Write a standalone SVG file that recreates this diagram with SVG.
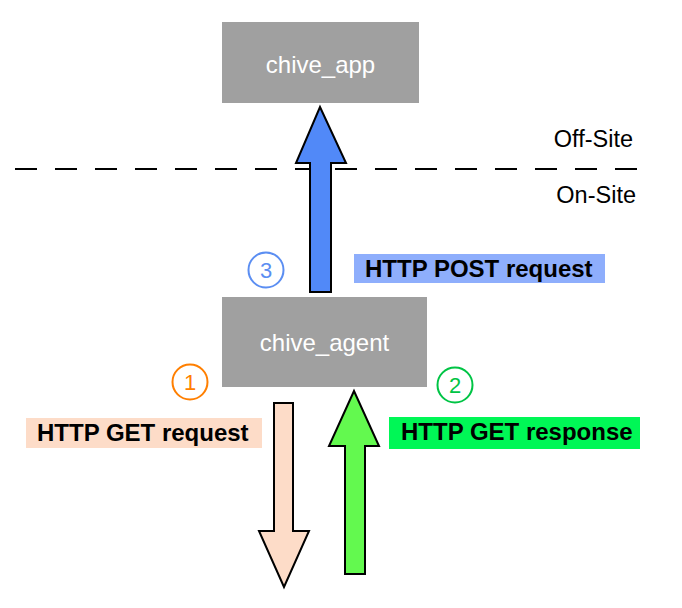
<svg xmlns="http://www.w3.org/2000/svg" width="682" height="608" viewBox="0 0 682 608">
<style>
.box{fill:#a0a0a0;}
.boxt{font-family:"Liberation Sans",Arial,sans-serif;font-size:24px;fill:#ffffff;text-anchor:middle;}
.zone{font-family:"Liberation Sans",Arial,sans-serif;font-size:23.5px;fill:#000000;text-anchor:end;}
.lbl{font-family:"Liberation Sans",Arial,sans-serif;font-size:24px;font-weight:bold;fill:#000000;}
.arrow{stroke:#000000;stroke-width:2;stroke-linejoin:miter;}
.num{font-family:"Liberation Sans",Arial,sans-serif;font-size:22px;text-anchor:middle;}
.ring{fill:none;stroke-width:2;}
</style>
<rect width="682" height="608" fill="#ffffff"/>
<line x1="15" y1="169" x2="640" y2="169" stroke="#000000" stroke-width="2" stroke-dasharray="22 18"/>
<text class="zone" x="633" y="147">Off-Site</text>
<text class="zone" x="636" y="203">On-Site</text>
<g id="chive_app">
<rect class="box" x="222" y="22" width="197" height="81"/>
<text class="boxt" x="320.5" y="73">chive_app</text>
</g>
<g id="chive_agent">
<rect class="box" x="222" y="297" width="205" height="90"/>
<text class="boxt" x="324.5" y="351">chive_agent</text>
</g>
<g id="connectors">
<polygon class="arrow" fill="#5189f8" points="320,107 346,163 331,163 331,292 310,292 310,163 296,163"/>
<polygon class="arrow" fill="#fddcc8" points="274,403 293,403 293,531 309,531 284,587 259,531 274,531"/>
<polygon class="arrow" fill="#63f94f" points="354,391 379,446 365,446 365,574 345,574 345,446 329,446"/>
</g>
<g id="label_post">
<rect x="354" y="254" width="251" height="29" fill="#8eaefc"/>
<text class="lbl" x="365" y="277">HTTP POST request</text>
</g>
<g id="label_get_request">
<rect x="26" y="418" width="236" height="30" fill="#fddcc8"/>
<text class="lbl" x="37" y="441">HTTP GET request</text>
</g>
<g id="label_get_response">
<rect x="389" y="417" width="251" height="32" fill="#00f756"/>
<text class="lbl" x="401" y="440">HTTP GET response</text>
</g>
<g id="step3">
<circle class="ring" cx="266" cy="270" r="17.5" stroke="#5b8ef2"/>
<text class="num" x="266" y="278" fill="#5b8ef2">3</text>
</g>
<g id="step1">
<circle class="ring" cx="190" cy="382" r="17.5" stroke="#ff7f00"/>
<text class="num" x="190" y="390" fill="#ff7f00">1</text>
</g>
<g id="step2">
<circle class="ring" cx="455" cy="385" r="17.5" stroke="#00c445"/>
<text class="num" x="455" y="393" fill="#00c445">2</text>
</g>
</svg>
